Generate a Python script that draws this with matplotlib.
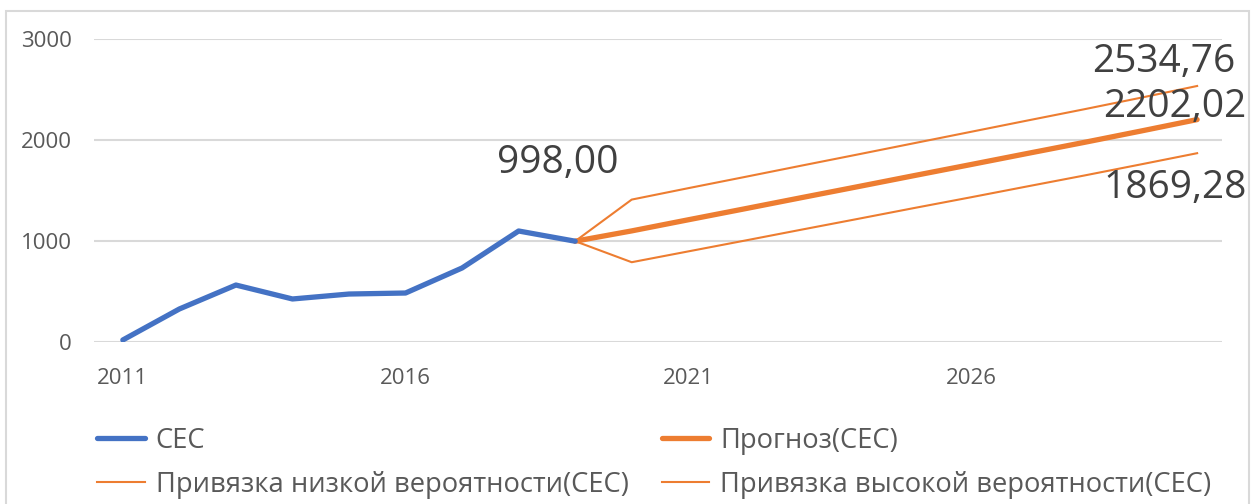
import matplotlib.pyplot as plt
from matplotlib.patches import Rectangle

plt.rcParams['font.family'] = ['Open Sans', 'DejaVu Sans']

# фактические значения
years = [2011, 2012, 2013, 2014, 2015, 2016, 2017, 2018, 2019]
cec = [20, 327, 564, 426, 475, 485, 733, 1099, 998]

# прогноз и границы доверительного интервала
fc_years = [2019, 2020, 2021, 2022, 2023, 2024, 2025, 2026, 2027, 2028, 2029, 2030]
forecast = [998, 1100, 1210, 1319, 1429, 1538, 1648, 1757, 1867, 1976, 2088, 2202.02]
low = [998, 790, 897, 1004, 1112, 1219, 1327, 1433, 1541, 1648, 1758, 1869.28]
high = [998, 1410, 1523, 1634, 1746, 1857, 1969, 2081, 2193, 2304, 2418, 2534.76]

xticks = [2011, 2016, 2021, 2026]
yticks = [0, 1000, 2000, 3000]

blue = '#4472C4'
orange = '#ED7D31'
txt = '#595959'

fig = plt.figure(figsize=(12.52, 5.04), dpi=100)
fig.patches.append(Rectangle((6 / 1252, -0.05), 1243 / 1252, 1 - 11 / 504 + 0.05,
                             transform=fig.transFigure, fill=False,
                             edgecolor='#d9d9d9', linewidth=1.5))

ax = fig.add_axes([94 / 1252, 162 / 504, 1128 / 1252, 303 / 504])

l_cec, = ax.plot(years, cec, color=blue, lw=3.8, solid_capstyle='round', label='СЕС', zorder=3)
l_fc, = ax.plot(fc_years, forecast, color=orange, lw=3.8, solid_capstyle='round', label='Прогноз(СЕС)', zorder=2)
l_lo, = ax.plot(fc_years, low, color=orange, lw=1.5, label='Привязка низкой вероятности(СЕС)', zorder=2)
l_hi, = ax.plot(fc_years, high, color=orange, lw=1.5, label='Привязка высокой вероятности(СЕС)', zorder=2)

ax.set_xlim(2010.49, 2030.44)
ax.set_ylim(0, 3000)
ax.set_xticks(xticks)
ax.set_yticks(yticks)
ax.grid(axis='y', color='#d9d9d9', lw=1.5)
ax.set_axisbelow(True)
for s in ax.spines.values():
    s.set_visible(False)
ax.tick_params(axis='both', length=0, labelcolor=txt, labelsize=16)
ax.tick_params(axis='y', pad=16)
ax.tick_params(axis='x', pad=19)

# подписи значений
lab = dict(textcoords='offset pixels', ha='center', va='center', fontsize=28, color='#404040')
ax.annotate('998,00', (years[-1], cec[-1]), xytext=(-17, 78), **lab)
ax.annotate('2534,76', (fc_years[-1], high[-1]), xytext=(-33, 24), **lab)
ax.annotate('2202,02', (fc_years[-1], forecast[-1]), xytext=(-22, 13), **lab)
ax.annotate('1869,28', (fc_years[-1], low[-1]), xytext=(-22, -35), **lab)

fig.legend(handles=[l_cec, l_lo, l_fc, l_hi], ncol=2, loc='upper left',
           bbox_to_anchor=(97 / 1252, 1 - 427 / 504), frameon=False,
           fontsize=19.7, labelcolor=txt, handlelength=1.75, handletextpad=0.4,
           columnspacing=1.2, labelspacing=0.57, borderpad=0, borderaxespad=0)

fig.savefig('out.png', dpi=100)
